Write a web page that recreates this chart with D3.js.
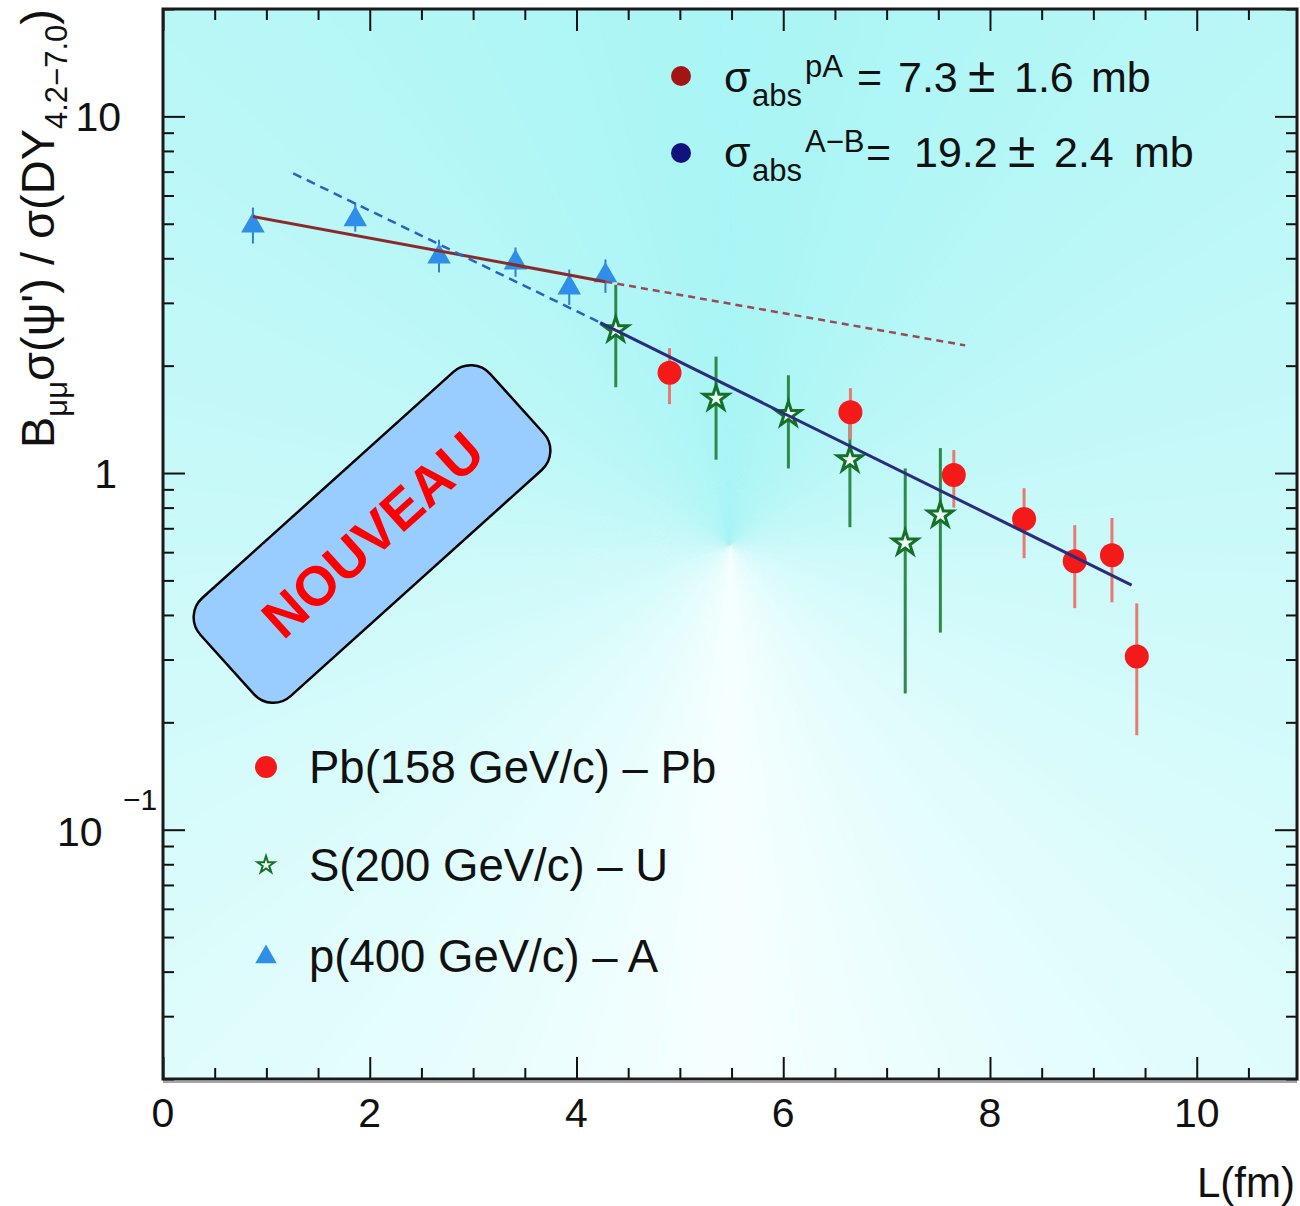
<!DOCTYPE html>
<html><head><meta charset="utf-8">
<script src="https://cdn.jsdelivr.net/npm/d3@7"></script>
<style>body{margin:0;background:#fff} svg{display:block}</style>
</head><body><svg id="c" width="1300" height="1206"></svg>
<script>
// ---- data ----
const pbL   = [4.90, 6.65, 7.65, 8.33, 8.82, 9.18, 9.42];
const pbVal = [1.91, 1.48, 0.987, 0.743, 0.566, 0.588, 0.306];
const pbLo  = [1.56, 1.24, 0.80, 0.577, 0.418, 0.434, 0.184];
const pbHi  = [2.24, 1.73, 1.16, 0.907, 0.714, 0.748, 0.431];

const suL   = [4.38, 5.35, 6.05, 6.645, 7.18, 7.52];
const suVal = [2.52, 1.62, 1.46, 1.09, 0.636, 0.762];
const suLo  = [1.74, 1.09, 1.03, 0.705, 0.241, 0.357];
const suHi  = [3.37, 2.12, 1.88, 1.46, 1.03, 1.175];

const paL   = [0.87, 1.86, 2.67, 3.41, 3.93, 4.28];
const paVal = [4.94, 5.14, 4.04, 3.89, 3.31, 3.58];
const paLo  = [4.40, 4.75, 3.65, 3.55, 2.96, 3.20];
const paHi  = [5.55, 5.73, 4.51, 4.29, 3.72, 3.97];

const fitPA_L = [0.87, 4.28],  fitPA_V = [5.24, 3.44];
const fitPAext_L = [4.28, 7.76], fitPAext_V = [3.44, 2.28];
const fitAB_L = [4.23, 9.37],  fitAB_V = [2.64, 0.485];
const fitABext_L = [1.26, 4.23], fitABext_V = [6.92, 2.64];

const xMajor = [0, 2, 4, 6, 8, 10];
const xTickLabels = ["0", "2", "4", "6", "8", "10"];
const yMajor = [0.1, 1, 10];

const legendLabels = ["Pb(158 GeV/c) \u2013 Pb", "S(200 GeV/c) \u2013 U", "p(400 GeV/c) \u2013 A"];
const sigmaSup = ["pA", "A\u2212B"];
const sigmaVal = ["7.3", "19.2"];
const sigmaErr = ["1.6", "2.4"];

// ---- layout ----
const svg = d3.select("#c");
const L = 163, R = 1297, T = 9, B = 1079;
const x = d3.scaleLinear().domain([0, 10.97]).range([L, R]);
const y = d3.scaleLog().domain([0.02, 20]).range([B, T]);
const FONT = "'Liberation Sans', Arial, Helvetica, sans-serif";

// ---- background (conic-like gradient) ----
const defs = svg.append("defs");
defs.append("clipPath").attr("id", "plot").append("rect")
  .attr("x", L).attr("y", T).attr("width", R - L).attr("height", B - T);
const bg = svg.append("g").attr("clip-path", "url(#plot)");
const cx0 = 730, cy0 = 545;
const colAt = d3.interpolateRgb("#aaf5f5", "#f6ffff");
const arc = d3.arc().innerRadius(0).outerRadius(1600);
for (let a = 0; a < 360; a += 1) {
  const ang = Math.min(a + 0.5, 360 - a - 0.5);
  const t = Math.pow(ang / 180, 1.2);
  const c = colAt(t);
  bg.append("path")
    .attr("transform", `translate(${cx0},${cy0})`)
    .attr("d", arc({startAngle: a * Math.PI / 180, endAngle: (a + 1.2) * Math.PI / 180}))
    .attr("fill", c).attr("stroke", c).attr("stroke-width", 0.6);
}

// ---- axes/ticks ----
const xMinor = d3.range(0, 11, 0.5).filter(v => !xMajor.includes(v));
const yMinor = [];
[0.01, 0.1, 1, 10].forEach(d => { for (let k = 2; k <= 9; k++) { const v = d * k; if (v >= 0.02 && v <= 20) yMinor.push(v); } });

function ticks(axis, vals, size) {
  return axis.tickValues(vals).tickSize(size).tickFormat("");
}
const axG = svg.append("g").attr("stroke", "#111");
axG.append("g").attr("transform", `translate(0,${B})`).call(ticks(d3.axisBottom(x), xMajor, -22));
axG.append("g").attr("transform", `translate(0,${B})`).call(ticks(d3.axisBottom(x), xMinor, -11));
axG.append("g").attr("transform", `translate(0,${T})`).call(ticks(d3.axisTop(x), xMajor, -22));
axG.append("g").attr("transform", `translate(0,${T})`).call(ticks(d3.axisTop(x), xMinor, -11));
axG.append("g").attr("transform", `translate(${L},0)`).call(ticks(d3.axisLeft(y), yMajor, -22));
axG.append("g").attr("transform", `translate(${L},0)`).call(ticks(d3.axisLeft(y), yMinor, -11));
axG.append("g").attr("transform", `translate(${R},0)`).call(ticks(d3.axisRight(y), yMajor, -22));
axG.append("g").attr("transform", `translate(${R},0)`).call(ticks(d3.axisRight(y), yMinor, -11));
axG.selectAll(".domain").remove();
axG.selectAll(".tick line").attr("stroke", "#111").attr("stroke-width", 2);

// frame
svg.append("rect").attr("x", L).attr("y", T).attr("width", R - L).attr("height", B - T)
  .attr("fill", "none").attr("stroke", "#1a1a1a").attr("stroke-width", 3);
svg.append("line").attr("x1", L).attr("x2", R).attr("y1", B + 3).attr("y2", B + 3)
  .attr("stroke", "#888").attr("stroke-width", 1.5);

// tick labels
svg.append("g").selectAll("text").data(xMajor).join("text")
  .attr("x", d => x(d)).attr("y", B + 48).attr("text-anchor", "middle")
  .attr("font-family", FONT).attr("font-size", 41).attr("fill", "#111")
  .text((d, i) => xTickLabels[i]);
svg.append("text").attr("x", 121).attr("y", y(10) + 15).attr("text-anchor", "end")
  .attr("font-family", FONT).attr("font-size", 41).attr("fill", "#111").text("10");
svg.append("text").attr("x", 117).attr("y", y(1) + 15).attr("text-anchor", "end")
  .attr("font-family", FONT).attr("font-size", 41).attr("fill", "#111").text("1");
const tm1 = svg.append("text").attr("x", 57).attr("y", y(0.1) + 16)
  .attr("font-family", FONT).attr("font-size", 41).attr("fill", "#111");
tm1.append("tspan").text("10");
tm1.append("tspan").attr("x", 123).attr("y", y(0.1) - 20).attr("font-size", 30).text("\u22121");

// axis titles
svg.append("text").attr("x", 1295).attr("y", 1197).attr("text-anchor", "end")
  .attr("font-family", FONT).attr("font-size", 42).attr("fill", "#111").text("L(fm)");

const yt = svg.append("text").attr("transform", "translate(54,448) rotate(-90)")
  .attr("font-family", FONT).attr("font-size", 47).attr("fill", "#111");
yt.append("tspan").text("B");
yt.append("tspan").attr("dy", 13).attr("font-size", 31).text("\u03bc\u03bc");
yt.append("tspan").attr("dy", -13).text("\u03c3(\u03c8') / \u03c3(DY");
yt.append("tspan").attr("dy", 13).attr("font-size", 31).text("4.2\u22127.0");
yt.append("tspan").attr("dy", -13).text(")");

// ---- badge ----
const badge = svg.append("g").attr("transform", "translate(372,534) rotate(-42)");
badge.append("rect").attr("x", -195).attr("y", -66).attr("width", 390).attr("height", 132)
  .attr("rx", 26).attr("fill", "#99ccff").attr("stroke", "#000").attr("stroke-width", 2.5);
badge.append("text").attr("x", 0).attr("y", 20).attr("text-anchor", "middle")
  .attr("font-family", FONT).attr("font-weight", "bold").attr("font-size", 55)
  .attr("fill", "#ff0000").text("NOUVEAU");

// ---- data marks ----
const marks = svg.append("g");
function errBars(Ls, lo, hi, color, w) {
  marks.append("g").selectAll("line").data(Ls).join("line")
    .attr("x1", d => x(d)).attr("x2", d => x(d))
    .attr("y1", (d, i) => y(lo[i])).attr("y2", (d, i) => y(hi[i]))
    .attr("stroke", color).attr("stroke-width", w);
}
errBars(paL, paLo, paHi, "#2f7fd6", 2);
errBars(suL, suLo, suHi, "#2e8a48", 3);
errBars(pbL, pbLo, pbHi, "#e97a72", 3);

marks.append("g").selectAll("path").data(paL).join("path")
  .attr("transform", (d, i) => `translate(${x(d)},${y(paVal[i])})`)
  .attr("d", d3.symbol(d3.symbolTriangle, 240)()).attr("fill", "#2f8fe8");
marks.append("g").selectAll("path").data(suL).join("path")
  .attr("transform", (d, i) => `translate(${x(d)},${y(suVal[i])})`)
  .attr("d", d3.symbol(d3.symbolStar, 190)())
  .attr("fill", "#eafff4").attr("stroke", "#17702a").attr("stroke-width", 3);
marks.append("g").selectAll("circle").data(pbL).join("circle")
  .attr("cx", d => x(d)).attr("cy", (d, i) => y(pbVal[i])).attr("r", 12)
  .attr("fill", "#f41a1a");

// fits
const line = d3.line().x(d => x(d[0])).y(d => y(d[1]));
function fit(Ls, Vs, color, w, dash) {
  svg.append("path").attr("d", line(Ls.map((l, i) => [l, Vs[i]])))
    .attr("fill", "none").attr("stroke", color).attr("stroke-width", w)
    .attr("stroke-dasharray", dash || null);
}
fit(fitPA_L, fitPA_V, "#8a2a2a", 3);
fit(fitPAext_L, fitPAext_V, "#9a4a52", 2.5, "7,5");
fit(fitABext_L, fitABext_V, "#2a62c4", 2.5, "9,6");
fit(fitAB_L, fitAB_V, "#2c2c7c", 3);

// ---- top legend ----
const tl = svg.append("g").attr("font-family", FONT).attr("fill", "#111");
tl.append("circle").attr("cx", 681).attr("cy", 76).attr("r", 10).attr("fill", "#a31515");
tl.append("circle").attr("cx", 681).attr("cy", 153).attr("r", 10).attr("fill", "#12127e");
const legX = [
  {eq: 857, v: 898, pm: 968, e: 1014, mb: 1091},
  {eq: 866, v: 914, pm: 1008, e: 1054, mb: 1134}
];
[92, 167].forEach((yb, i) => {
  const p = legX[i];
  const t = tl.append("text").attr("y", yb).attr("font-size", 43);
  t.append("tspan").attr("x", 724).text("\u03c3");
  t.append("tspan").attr("x", 752).attr("y", yb + 14).attr("font-size", 31).text("abs");
  t.append("tspan").attr("x", 805).attr("y", yb - 15).attr("font-size", 31).text(sigmaSup[i]);
  t.append("tspan").attr("x", p.eq).attr("y", yb).text("=");
  t.append("tspan").attr("x", p.v).text(sigmaVal[i]);
  t.append("tspan").attr("x", p.pm).attr("font-size", 50).text("\u00b1");
  t.append("tspan").attr("x", p.e).attr("font-size", 43).text(sigmaErr[i]);
  t.append("tspan").attr("x", p.mb).text("mb");
});

// ---- bottom legend ----
const bl = svg.append("g").attr("font-family", FONT).attr("fill", "#111");
const legY = [767, 865, 957];
const legBase = [783, 881, 972];
bl.append("circle").attr("cx", 266).attr("cy", legY[0]).attr("r", 11).attr("fill", "#f41a1a");
bl.append("path").attr("transform", `translate(266,${legY[1]})`)
  .attr("d", d3.symbol(d3.symbolStar, 90)()).attr("fill", "#eafff4").attr("stroke", "#17702a").attr("stroke-width", 2);
bl.append("path").attr("transform", `translate(266,${legY[2]})`)
  .attr("d", d3.symbol(d3.symbolTriangle, 200)()).attr("fill", "#2f8fe8");
bl.selectAll("text").data(legendLabels).join("text")
  .attr("x", 309).attr("y", (d, i) => legBase[i]).attr("font-size", 45.5)
  .text(d => d);
</script></body></html>
